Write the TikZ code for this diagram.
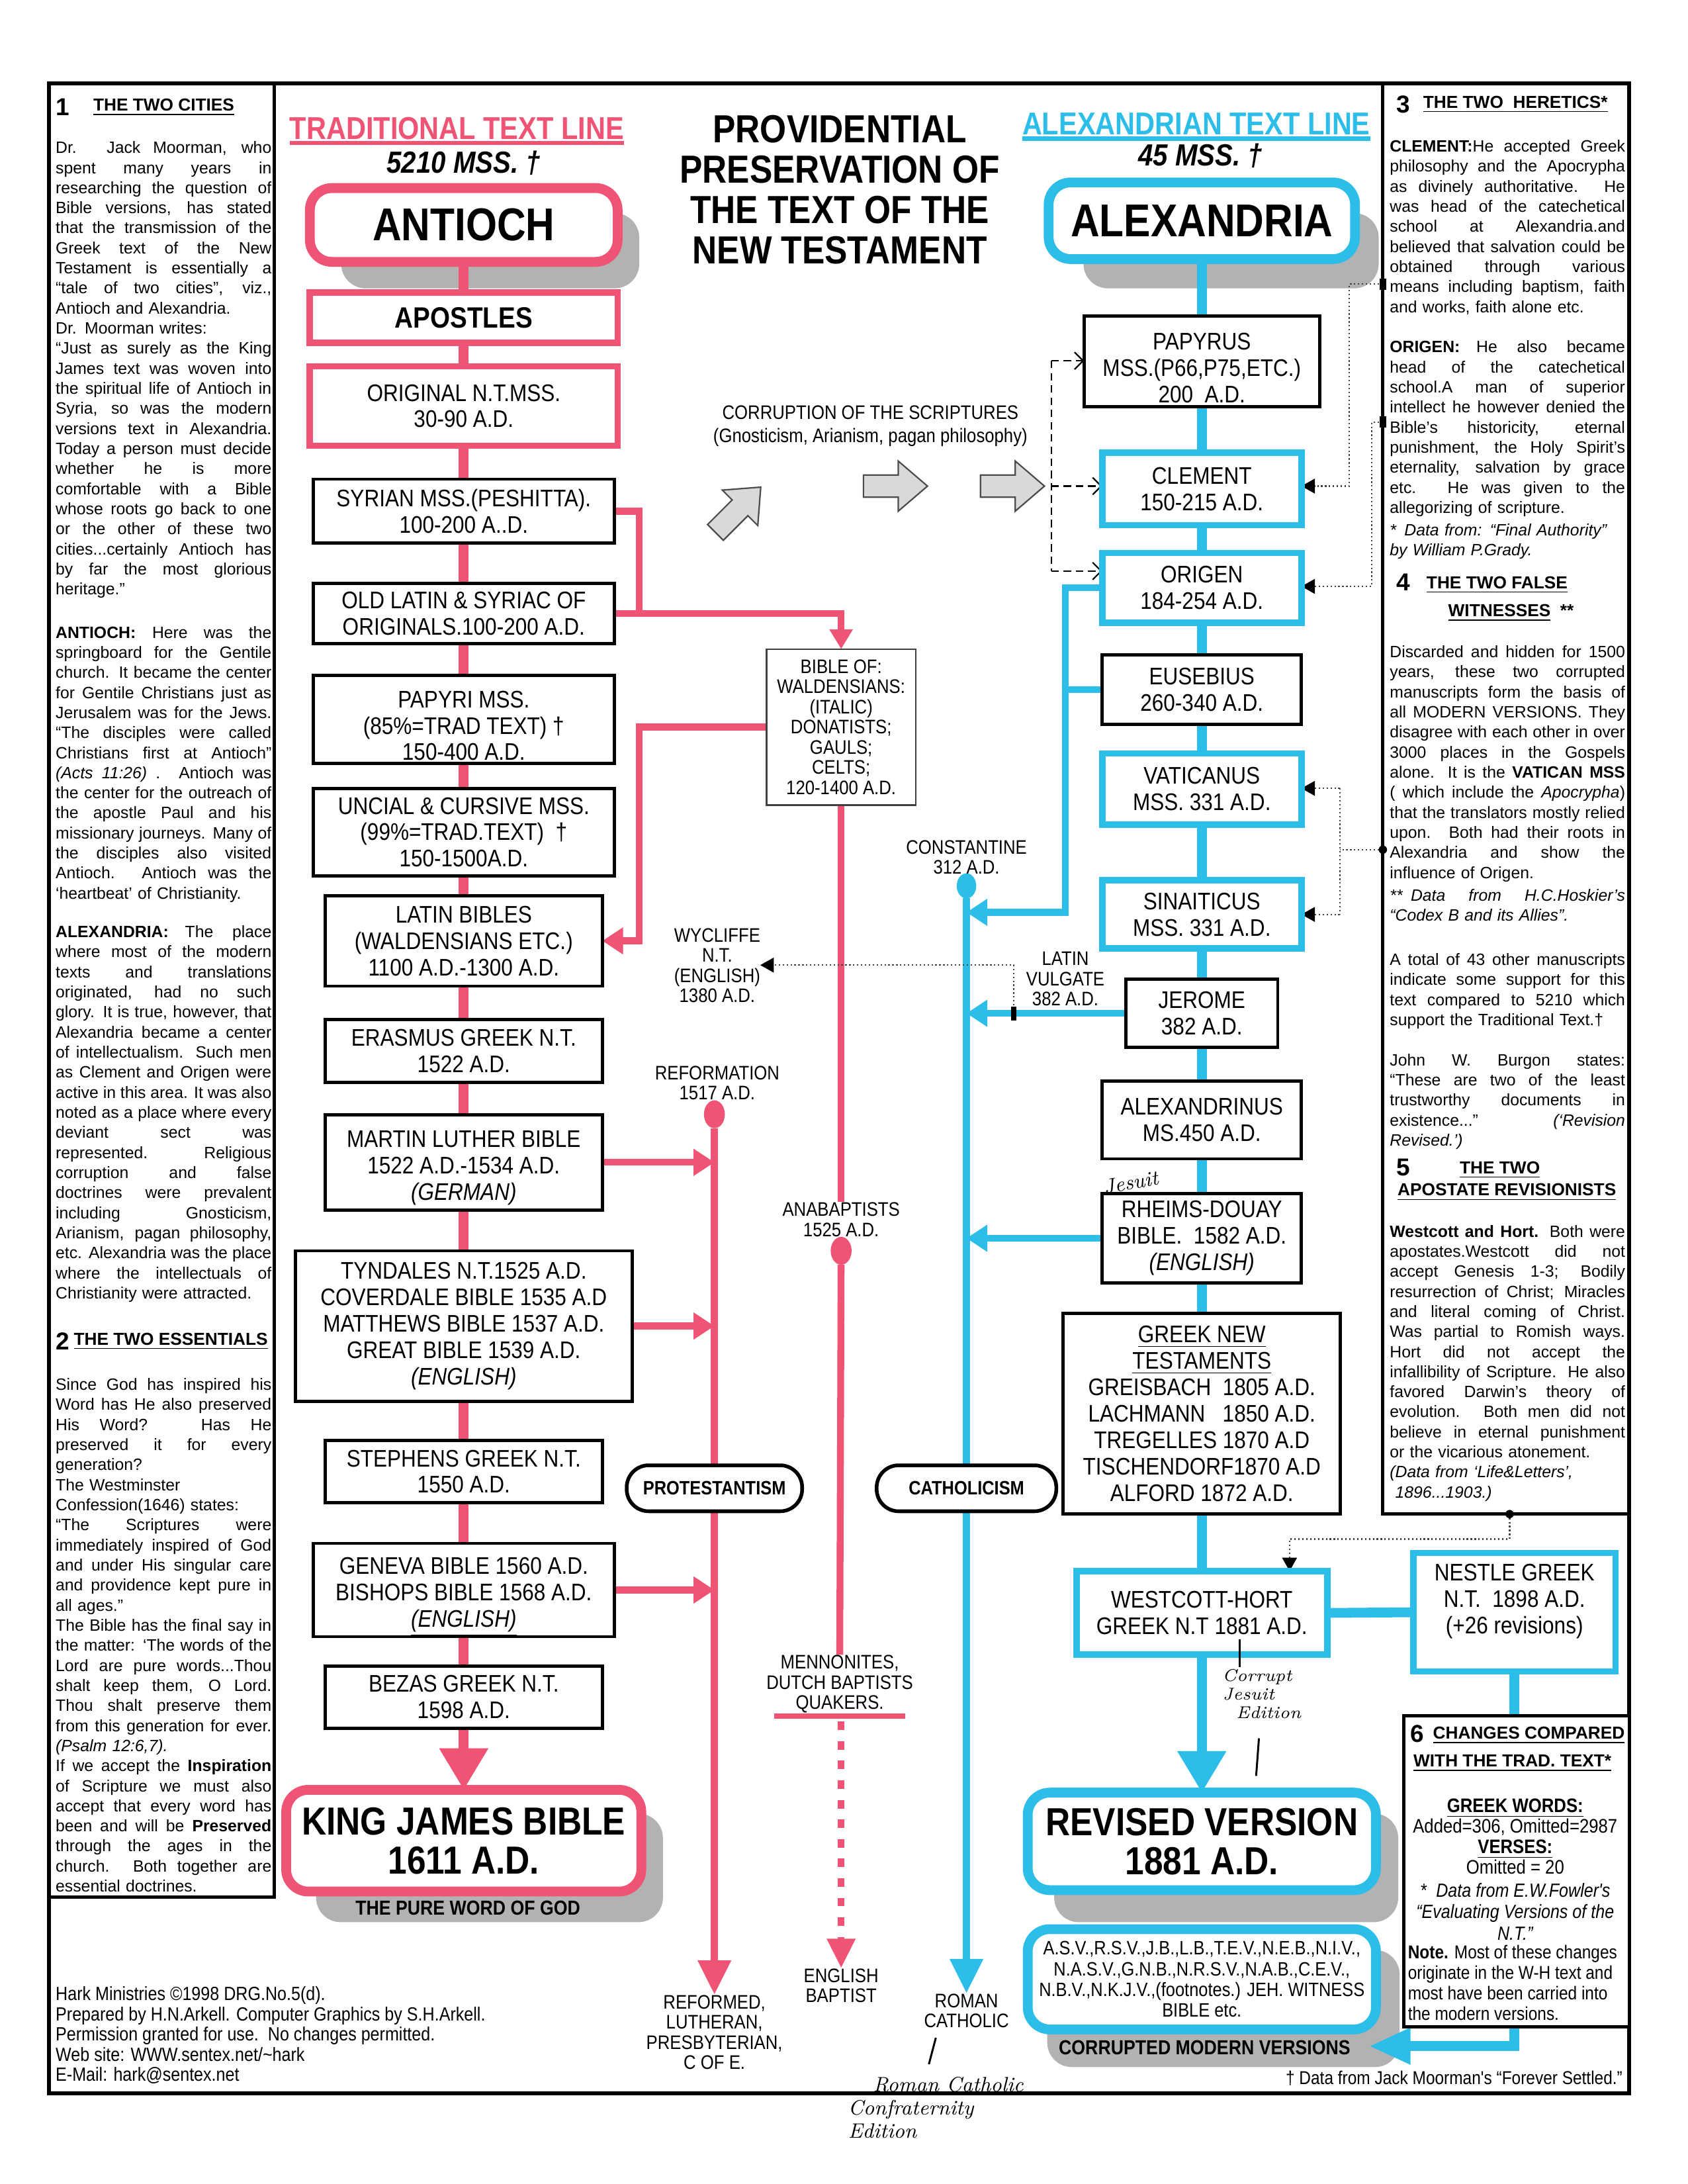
\documentclass[tikz,border=0pt]{standalone}
\usepackage{fontspec}
\setsansfont{Liberation Sans}
\renewcommand{\familydefault}{\sfdefault}
\newfontfamily\cnd[FakeStretch=0.87]{Liberation Sans}
\usetikzlibrary{arrows.meta,shapes.geometric}
\definecolor{pk}{RGB}{239,84,117}
\definecolor{bl}{RGB}{44,190,232}
\definecolor{shd}{RGB}{178,178,178}
\newdimen\uu \uu=0.02cm
\newdimen\jw \jw=3.1cm
\newcommand\jl[1]{\leavevmode\hbox to\jw{\spaceskip=0pt\xspaceskip=0pt\relax #1}}
\newcommand\bxf{\cnd\fontsize{9.8}{10.8}\selectfont}
\newcommand\lbf{\cnd\fontsize{8}{8.25}\selectfont}
\newcommand\ptx{\fontsize{6.7}{8.2}\selectfont}
\newcommand\hdf{\fontsize{7.1}{8.2}\selectfont\bfseries}
\newcommand\numf{\fontsize{10}{10}\selectfont\bfseries}
\newcommand\bigf{\cnd\fontsize{18.8}{19}\selectfont\bfseries}
\newcommand\kjbf{\cnd\fontsize{16}{16}\selectfont\bfseries}
\newcommand\up[1]{\rule{0pt}{#1}}
\newcommand\bx[7]{\node[#2, minimum width=#5*\uu, minimum height=#6*\uu] (#1) at (#3,#4) {#7};}
\newcommand\garrow[3]{\begin{scope}[shift={(#1,#2)}, rotate=#3]
  \draw[draw=gray!60!black, fill=gray!30, line width=0.6pt] (-23,-8) -- (2,-8) -- (2,-18) -- (23,0) -- (2,18) -- (2,8) -- (-23,8) -- cycle;
\end{scope}}
\pgfdeclarelayer{shadowl}\pgfdeclarelayer{bg}\pgfsetlayers{shadowl,bg,main}
\tikzset{
  nb/.style={inner sep=0pt, outer sep=0pt, align=center},
  pkbox/.style={nb, draw=pk, line width=2.6pt, fill=white, font=\bxf},
  blbox/.style={nb, draw=bl, line width=2.6pt, fill=white, font=\bxf},
  bkbox/.style={nb, draw=black, line width=1.3pt, fill=white, font=\bxf},
  thinbox/.style={nb, draw=black!75, line width=0.6pt, fill=white, font=\lbf},
  pkround/.style={nb, draw=pk, line width=4pt, rounded corners=9pt, fill=white},
  blround/.style={nb, draw=bl, line width=4pt, rounded corners=9pt, fill=white},
  shbox/.style={nb, fill=shd, rounded corners=10pt},
  pill/.style={nb, draw=black, line width=1.5pt, rounded corners=9pt, fill=white, font=\cnd\fontsize{7.9}{8}\selectfont\bfseries},
  panel/.style={nb, draw=black, line width=1.4pt},
  ptrunk/.style={draw=pk, line width=4pt},
  btrunk/.style={draw=bl, line width=4pt},
  pthin/.style={draw=pk, line width=2.8pt},
  bthin/.style={draw=bl, line width=2.8pt},
  parr/.style={pthin, -{Triangle[length=8.5pt,width=10.5pt]}},
  barr/.style={bthin, -{Triangle[length=8.5pt,width=10.5pt]}},
  dotc/.style={draw=black!75, line width=0.6pt, densely dotted},
  dotarr/.style={dotc, -{Triangle[length=5.5pt,width=6pt,black]}},
  dashc/.style={draw=black, line width=0.6pt, densely dashed},
  dasharr/.style={dashc, -{Straight Barb[length=3.5pt,width=7pt]}},
  pkdot/.style={nb, ellipse, fill=pk, minimum width=15*\uu, minimum height=20*\uu},
  bldot/.style={nb, ellipse, fill=bl, minimum width=14*\uu, minimum height=18*\uu},
  mk/.style={nb, fill=black, minimum width=5*\uu, minimum height=8*\uu},
  mkdot/.style={nb, circle, fill=black, minimum size=6*\uu},
  lbl/.style={nb, anchor=north, font=\lbf},
  ptxt/.style={nb, anchor=north west, align=left, font=\ptx},
  hand/.style={nb, font=\rmfamily\itshape\fontsize{8.5}{9.5}\selectfont},
  numl/.style={nb, anchor=west, font=\numf},
  hdl/.style={nb, font=\hdf},
}
\begin{document}
\begin{tikzpicture}[x=0.02cm,y=-0.02cm]
\useasboundingbox (0,0) rectangle (1212,1568);
\begin{pgfonlayer}{shadowl}
\fill[white] (0,0) rectangle (1212,1568);
\node[shbox, minimum width=214*\uu, minimum height=54*\uu] (antsh) at (352,180) {};
\node[shbox, minimum width=212*\uu, minimum height=54*\uu] (alexsh) at (884,180) {};
\node[shbox, minimum width=249*\uu, minimum height=78*\uu] (kjbsh) at (351.5,1341) {};
\node[shbox, minimum width=247*\uu, minimum height=78*\uu] (rvsh) at (880.5,1341) {};
\node[shbox, minimum width=253*\uu, minimum height=84*\uu] (cmvsh) at (878.5,1442) {};
\end{pgfonlayer}

% frames and panels
\node[panel, line width=1.6pt, minimum width=1135*\uu, minimum height=1443*\uu] (frame) at (602.5,781.5) {};
\node[panel, minimum width=162*\uu, minimum height=1302*\uu] (lpanel) at (116,711) {};
\node[panel, minimum width=177*\uu, minimum height=1027*\uu] (rpanel) at (1081.5,573.5) {};
\node[panel, fill=white, minimum width=162*\uu, minimum height=223*\uu] (sec6) at (1089,1343.5) {};

% titles
\node[nb, text=pk, font=\cnd\fontsize{12.9}{13}\selectfont\bfseries] (ttl) at (328,92) {TRADITIONAL TEXT LINE};
\node[nb, text=bl, font=\cnd\fontsize{12.9}{13}\selectfont\bfseries] (atl) at (859,89) {ALEXANDRIAN TEXT LINE};
\node[nb, font=\cnd\fontsize{12.5}{13}\selectfont\bfseries\itshape] (n5210) at (333,117) {5210 MSS. †};
\node[nb, font=\cnd\fontsize{12.5}{13}\selectfont\bfseries\itshape] (n45) at (862,112) {45 MSS. †};
\node[nb, anchor=north, font=\cnd\fontsize{16}{16.5}\selectfont\bfseries] (title) at (603,82) {\strut PROVIDENTIAL\\PRESERVATION OF\\THE TEXT OF THE\\NEW TESTAMENT};

% traditional line
\bx{antioch}{pkround,font=\bigf}{333}{161.5}{221}{53}{ANTIOCH}
\bx{apostles}{pkbox,font=\cnd\fontsize{12}{12}\selectfont\bfseries}{333}{228}{221}{36}{APOSTLES}
\bx{orig}{pkbox}{333}{291.5}{221}{57}{ORIGINAL N.T.MSS.\\30-90 A.D.}
\bx{syrian}{bkbox}{333}{367}{216}{46}{SYRIAN MSS.(PESHITTA).\\100-200 A..D.}
\bx{oldlatin}{bkbox}{333}{440.5}{216}{43}{OLD LATIN \& SYRIAC OF\\ORIGINALS.100-200 A.D.}
\bx{papyri}{bkbox}{333}{516.5}{216}{63}{\up{12pt}PAPYRI MSS.\\(85\%=TRAD TEXT) †\\150-400 A.D.}
\bx{uncial}{bkbox}{333}{597.5}{216}{63}{UNCIAL \& CURSIVE MSS.\\(99\%=TRAD.TEXT) \ †\\150-1500A.D.}
\bx{latin}{bkbox}{333}{675.5}{199}{65}{LATIN BIBLES\\(WALDENSIANS ETC.)\\1100 A.D.-1300 A.D.}
\bx{erasmus}{bkbox}{333}{754.5}{199}{45}{ERASMUS GREEK N.T.\\1522 A.D.}
\bx{luther}{bkbox}{333}{834.5}{199}{63}{\up{13.4pt}MARTIN LUTHER BIBLE\\1522 A.D.-1534 A.D.\\\underline{\textit{(GERMAN)}}}
\bx{tyndale}{bkbox}{333}{952}{242}{108}{TYNDALES N.T.1525 A.D.\\COVERDALE BIBLE 1535 A.D\\MATTHEWS BIBLE 1537 A.D.\\GREAT BIBLE 1539 A.D.\\\textit{(ENGLISH)}}
\bx{stephens}{bkbox}{333}{1056.5}{199}{45}{STEPHENS GREEK N.T.\\1550 A.D.}
\bx{geneva}{bkbox}{333}{1141.5}{216}{61}{\up{12.5pt}GENEVA BIBLE 1560 A.D.\\BISHOPS BIBLE 1568 A.D.\\\underline{\textit{(ENGLISH)}}}
\bx{bezas}{bkbox}{333}{1218.5}{199}{45}{BEZAS GREEK N.T.\\1598 A.D.}
\bx{kjb}{pkround,font=\kjbf}{333}{1321.5}{255}{73}{KING JAMES BIBLE\\1611 A.D.}
\node[nb, font=\cnd\fontsize{8.3}{9}\selectfont\bfseries] (pwg) at (336,1370) {THE PURE WORD OF GOD};

% alexandrian line
\bx{alexandria}{blround,font=\bigf}{863}{158.5}{220}{55}{ALEXANDRIA}
\bx{papyrus}{bkbox}{863}{259.5}{169}{65}{\up{12.2pt}PAPYRUS\\MSS.(P66,P75,ETC.)\\200 \ A.D.}
\bx{clement}{blbox}{863}{351}{143}{52}{CLEMENT\\150-215 A.D.}
\bx{origen}{blbox}{863}{422}{143}{50}{ORIGEN\\184-254 A.D.}
\bx{eusebius}{bkbox}{863}{495}{143}{50}{EUSEBIUS\\260-340 A.D.}
\bx{vaticanus}{blbox}{863}{566.5}{143}{51}{VATICANUS\\MSS. 331 A.D.}
\bx{sinaiticus}{blbox}{863}{656.5}{143}{49}{SINAITICUS\\MSS. 331 A.D.}
\bx{jerome}{bkbox}{863}{727.5}{109}{49}{JEROME\\382 A.D.}
\bx{alexandrinus}{bkbox}{863}{804}{143}{56}{ALEXANDRINUS\\MS.450 A.D.}
\bx{rheims}{bkbox}{863}{889}{143}{64}{RHEIMS-DOUAY\\BIBLE. \ 1582 A.D.\\\textit{(ENGLISH)}}
\bx{greeknt}{bkbox}{863}{1015}{199}{144}{\underline{GREEK NEW}\\\underline{TESTAMENTS}\\GREISBACH \ 1805 A.D.\\LACHMANN \ \ 1850 A.D.\\TREGELLES 1870 A.D\\TISCHENDORF1870 A.D\\ALFORD 1872 A.D.}
\bx{wh}{blbox}{863}{1158}{180}{60}{WESTCOTT-HORT\\GREEK N.T 1881 A.D.}
\bx{rv}{blround,font=\kjbf}{863}{1322}{250}{70}{REVISED VERSION\\1881 A.D.}
\bx{cmv}{blround,font=\cnd\fontsize{7.9}{8.5}\selectfont}{863}{1421}{250}{72}{A.S.V.,R.S.V.,J.B.,L.B.,T.E.V.,N.E.B.,N.I.V.,\\N.A.S.V.,G.N.B.,N.R.S.V.,N.A.B.,C.E.V.,\\N.B.V.,N.K.J.V.,(footnotes.) JEH. WITNESS\\BIBLE etc.}
\node[nb, font=\cnd\fontsize{8.3}{9}\selectfont\bfseries] (cmvl) at (865,1470) {CORRUPTED MODERN VERSIONS};
\bx{nestle}{blbox}{1087.5}{1157.5}{145}{85}{NESTLE GREEK\\N.T. \ 1898 A.D.\\(+26 revisions)\\\mbox{}}

% middle
\bx{wald}{thinbox}{604}{522}{107}{112}{BIBLE OF:\\WALDENSIANS:\\(ITALIC)\\DONATISTS;\\GAULS;\\CELTS;\\120-1400 A.D.}
\bx{prot}{pill}{513}{1068.5}{126}{33}{PROTESTANTISM}
\bx{cath}{pill}{694}{1068.5}{129}{33}{CATHOLICISM}
\node[pkdot] (refdot) at (513,800) {};
\node[pkdot] (anadot) at (604,898) {};
\node[bldot] (condot) at (694,636) {};

\node[lbl] (corr) at (625,291) {\strut CORRUPTION OF THE SCRIPTURES\\(Gnosticism, Arianism, pagan philosophy)};
\node[lbl] (reform) at (515,765) {\strut REFORMATION\\1517 A.D.};
\node[lbl] (anab) at (604,863) {\strut ANABAPTISTS\\1525 A.D.};
\node[lbl] (menno) at (603,1188) {\strut MENNONITES,\\DUTCH BAPTISTS\\QUAKERS.};
\node[lbl] (eb) at (604,1413) {\strut ENGLISH\\BAPTIST};
\node[lbl] (refl) at (513,1432) {\strut REFORMED,\\LUTHERAN,\\PRESBYTERIAN,\\C OF E.};
\node[lbl] (rcl) at (694,1431) {\strut ROMAN\\CATHOLIC};
\node[lbl] (const) at (694,603) {\strut CONSTANTINE\\312 A.D.};
\node[lbl] (wyc) at (515,666) {\strut WYCLIFFE\\N.T.\\(ENGLISH)\\1380 A.D.};
\node[lbl] (vulg) at (765,683) {\strut LATIN\\VULGATE\\382 A.D.};

\garrow{530}{366}{45}
\garrow{643}{349}{0}
\garrow{727}{349}{0}

% coordinates
\coordinate (sj) at (459,440.5);
\coordinate (wj) at (459,675.5);
\coordinate (mu1) at (556,1232); \coordinate (mu2) at (650,1232); \coordinate (mu) at (604,1236);
\coordinate (w8) at (765,655);
\coordinate (cmvtip) at (983,1469);
\coordinate (cv1) at (755,259); \coordinate (cv3) at (755,349); \coordinate (cv2) at (755,410);
\coordinate (m1) at (993,204); \coordinate (w1) at (969,349);
\coordinate (m2) at (993,303); \coordinate (w2) at (985,421);
\coordinate (m3) at (993,610); \coordinate (w3) at (962,610); \coordinate (w4) at (962,566); \coordinate (w5) at (962,656.5);
\coordinate (m4) at (1084,1087); \coordinate (w7) at (926,1105);
\coordinate (jm) at (728,727.5);
\node[mk] (mk1) at (m1) {};
\node[mk] (mk2) at (m2) {};
\node[mkdot] (mk3) at (m3) {};
\node[mkdot] (mk4) at (m4) {};
\node[mk, minimum width=4*\uu, minimum height=10*\uu] (mk5) at (jm) {};

\begin{pgfonlayer}{bg}
\draw[pk, line width=1.8pt] ([yshift=-1.5pt]ttl.south west) -- ([yshift=-1.5pt]ttl.south east);
\draw[bl, line width=1.8pt] ([yshift=-1.5pt]atl.south west) -- ([yshift=-1.5pt]atl.south east);
% pink trunk
\draw[ptrunk] (antioch.south) -- (apostles.north);
\draw[ptrunk] (apostles.south) -- (orig.north);
\draw[ptrunk] (orig.south) -- (syrian.north);
\draw[ptrunk] (syrian.south) -- (oldlatin.north);
\draw[ptrunk] (oldlatin.south) -- (papyri.north);
\draw[ptrunk] (papyri.south) -- (uncial.north);
\draw[ptrunk] (uncial.south) -- (latin.north);
\draw[ptrunk] (latin.south) -- (erasmus.north);
\draw[ptrunk] (erasmus.south) -- (luther.north);
\draw[ptrunk] (luther.south) -- (tyndale.north);
\draw[ptrunk] (tyndale.south) -- (stephens.north);
\draw[ptrunk] (stephens.south) -- (geneva.north);
\draw[ptrunk] (geneva.south) -- (bezas.north);
\draw[ptrunk, -{Triangle[length=17pt,width=19pt]}] (bezas.south) -- (kjb.north);
% pink branches
\draw[pthin] (syrian.east) -| (sj);
\draw[pthin, -{Triangle[length=8pt,width=9pt]}] (oldlatin.east) -| (wald.north);
\draw[parr] (wald.west) -| (wj) -- (latin.east);
\draw[pthin] (wald.south) -- (anab.north);
\draw[pthin] (anadot) -- (menno.north);
\draw[pk, line width=2.3pt] (mu1) -- (mu2);
\draw[pthin, dash pattern=on 3.5pt off 4.5pt, -{Triangle[length=12pt,width=11pt]}] (mu) -- (eb.north);
\draw[pthin, -{Triangle[length=14pt,width=13pt]}] (refdot) -- (refl.north);
\draw[parr] (luther.east) -- (luther.east -| refdot);
\draw[parr] (tyndale.east) -- (tyndale.east -| refdot);
\draw[parr] (geneva.east) -- (geneva.east -| refdot);
% blue trunk
\draw[btrunk] (alexandria.south) -- (papyrus.north);
\draw[btrunk] (papyrus.south) -- (clement.north);
\draw[btrunk] (clement.south) -- (origen.north);
\draw[btrunk] (origen.south) -- (eusebius.north);
\draw[btrunk] (eusebius.south) -- (vaticanus.north);
\draw[btrunk] (vaticanus.south) -- (sinaiticus.north);
\draw[btrunk] (sinaiticus.south) -- (jerome.north);
\draw[btrunk] (jerome.south) -- (alexandrinus.north);
\draw[btrunk] (alexandrinus.south) -- (rheims.north);
\draw[btrunk] (rheims.south) -- (greeknt.north);
\draw[btrunk] (greeknt.south) -- (wh.north);
\draw[btrunk, -{Triangle[length=17pt,width=19pt]}] (wh.south) -- (rv.north);
% blue branches
\draw[barr] (origen.west) -| (w8) -- (w8 -| condot);
\draw[bthin] (eusebius.west) -- (eusebius.west -| w8);
\draw[barr] (jerome.west) -- (jerome.west -| condot);
\draw[barr] (rheims.west) -- (rheims.west -| condot);
\draw[bthin, -{Triangle[length=14pt,width=13pt]}] (condot) -- (rcl.north);
\draw[btrunk] (wh.east) -- (nestle.west);
\draw[btrunk, -{Triangle[length=17pt,width=14pt]}] (nestle.south) |- (cmvtip);
% dotted / dashed
\draw[dashc] (cv1) -- (cv2);
\draw[dasharr] (cv1) -- (cv1 -| papyrus.west);
\draw[dasharr] (cv3) -- (cv3 -| clement.west);
\draw[dasharr] (cv2) -- (cv2 -| origen.west);
\draw[dotarr] (m1) -| (w1) -- (w1 -| clement.east);
\draw[dotarr] (m2) -| (w2) -- (w2 -| origen.east);
\draw[dotc] (m3) -- (w3);
\draw[dotc] (w4) -- (w5);
\draw[dotarr] (w4) -- (w4 -| vaticanus.east);
\draw[dotarr] (w5) -- (w5 -| sinaiticus.east);
\draw[dotarr] (m4) |- (w7) -- (w7 |- wh.north);
\draw[dotarr] (jm) |- (wyc.east);
\end{pgfonlayer}

% left panel text
\node[numl] (h1n) at (40,77) {1};
\node[hdl, anchor=west] (h1) at (67,77) {\underline{THE TWO CITIES}};
\node[ptxt, text width=3.1cm] (t1) at (40,100) {\jw=3.1cm\noindent\strut\jl{Dr. Jack Moorman, who}\\
\jl{spent many years in}\\
\jl{researching the question of}\\
\jl{Bible versions, has stated}\\
\jl{that the transmission of the}\\
\jl{Greek text of the New}\\
\jl{Testament is essentially a}\\
\jl{“tale of two cities”, viz.,}\\
Antioch and Alexandria.\\
Dr. Moorman writes:\\
\jl{“Just as surely as the King}\\
\jl{James text was woven into}\\
\jl{the spiritual life of Antioch in}\\
\jl{Syria, so was the modern}\\
\jl{versions text in Alexandria.}\\
\jl{Today a person must decide}\\
\jl{whether he is more}\\
\jl{comfortable with a Bible}\\
\jl{whose roots go back to one}\\
\jl{or the other of these two}\\
\jl{cities...certainly Antioch has}\\
\jl{by far the most glorious}\\
heritage.”};
\node[ptxt, text width=3.1cm] (t2) at (40,448) {\jw=3.1cm\noindent\strut\jl{\textbf{ANTIOCH:}\quad Here was the}\\
\jl{springboard for the Gentile}\\
\jl{church. It became the center}\\
\jl{for Gentile Christians just as}\\
\jl{Jerusalem was for the Jews.}\\
\jl{“The disciples were called}\\
\jl{Christians first at Antioch”}\\
\jl{\textit{(Acts 11:26)} . Antioch was}\\
\jl{the center for the outreach of}\\
\jl{the apostle Paul and his}\\
\jl{missionary journeys. Many of}\\
\jl{the disciples also visited}\\
\jl{Antioch. Antioch was the}\\
‘heartbeat’ of Christianity.};
\node[ptxt, text width=3.1cm] (t3) at (40,663) {\jw=3.1cm\noindent\strut\jl{\textbf{ALEXANDRIA:}\quad The place}\\
\jl{where most of the modern}\\
\jl{texts and translations}\\
\jl{originated, had no such}\\
\jl{glory. It is true, however, that}\\
\jl{Alexandria became a center}\\
\jl{of intellectualism. Such men}\\
\jl{as Clement and Origen were}\\
\jl{active in this area. It was also}\\
\jl{noted as a place where every}\\
\jl{deviant sect was}\\
\jl{represented. Religious}\\
\jl{corruption and false}\\
\jl{doctrines were prevalent}\\
\jl{including Gnosticism,}\\
\jl{Arianism, pagan philosophy,}\\
\jl{etc. Alexandria was the place}\\
\jl{where the intellectuals of}\\
Christianity were attracted.};
\node[numl] (h2n) at (40,963) {2};
\node[hdl, anchor=west] (h2) at (53,963) {\underline{THE TWO ESSENTIALS}};
\node[ptxt, text width=3.1cm] (t4) at (40,988) {\jw=3.1cm\noindent\strut\jl{Since God has inspired his}\\
\jl{Word has He also preserved}\\
\jl{His Word? Has He}\\
\jl{preserved it for every}\\
generation?\\
The Westminster\\
Confession(1646) states:\\
\jl{“The Scriptures were}\\
\jl{immediately inspired of God}\\
\jl{and under His singular care}\\
\jl{and providence kept pure in}\\
all ages.”\\
\jl{The Bible has the final say in}\\
\jl{the matter: ‘The words of the}\\
\jl{Lord are pure words...Thou}\\
\jl{shalt keep them, O Lord.}\\
\jl{Thou shalt preserve them}\\
\jl{from this generation for ever.}\\
\textit{(Psalm 12:6,7).}\\
\jl{If we accept the \textbf{Inspiration}}\\
\jl{of Scripture we must also}\\
\jl{accept that every word has}\\
\jl{been and will be \textbf{Preserved}}\\
\jl{through the ages in the}\\
\jl{church. Both together are}\\
essential doctrines.};

% right panel text
\node[numl] (h3n) at (1003,75) {3};
\node[hdl, anchor=west] (h3) at (1022,75) {\underline{THE TWO\ \ HERETICS*}};
\node[ptxt, text width=3.38cm] (t5) at (998,99) {\jw=3.38cm\noindent\strut\jl{\textbf{CLEMENT:}He accepted Greek}\\
\jl{philosophy and the Apocrypha}\\
\jl{as divinely authoritative. He}\\
\jl{was head of the catechetical}\\
\jl{school at Alexandria.and}\\
\jl{believed that salvation could be}\\
\jl{obtained through various}\\
\jl{means including baptism, faith}\\
and works, faith alone etc.\\[8.2pt]
\jl{\textbf{ORIGEN:}\quad He also became}\\
\jl{head of the catechetical}\\
\jl{school.A man of superior}\\
\jl{intellect he however denied the}\\
\jl{Bible's historicity, eternal}\\
\jl{punishment, the Holy Spirit's}\\
\jl{eternality, salvation by grace}\\
\jl{etc. He was given to the}\\
allegorizing of scripture.\\[1pt]
\textit{*\enspace Data from: “Final Authority”}\\
\textit{by William P.Grady.}};
\node[numl] (h4n) at (1003,418) {4};
\node[hdl] (h4a) at (1075,420) {\underline{THE TWO FALSE}};
\node[hdl] (h4b) at (1085,440) {\underline{WITNESSES}\ \ **};
\node[ptxt, text width=3.38cm] (t6) at (998,462) {\jw=3.38cm\noindent\strut\jl{Discarded and hidden for 1500}\\
\jl{years, these two corrupted}\\
\jl{manuscripts form the basis of}\\
\jl{all MODERN VERSIONS. They}\\
\jl{disagree with each other in over}\\
\jl{3000 places in the Gospels}\\
\jl{alone. It is the \textbf{VATICAN MSS}}\\
\jl{( which include the \textit{Apocrypha})}\\
\jl{that the translators mostly relied}\\
\jl{upon. Both had their roots in}\\
\jl{Alexandria and show the}\\
influence of Origen.\\[1pt]
\jl{\textit{**\enspace Data from H.C.Hoskier's}}\\
\textit{“Codex B and its Allies”.}};
\node[ptxt, text width=3.38cm] (t7) at (998,683) {\jw=3.38cm\noindent\strut\jl{A total of 43 other manuscripts}\\
\jl{indicate some support for this}\\
\jl{text compared to 5210 which}\\
support the Traditional Text.†};
\node[ptxt, text width=3.38cm] (t8) at (998,755) {\jw=3.38cm\noindent\strut\jl{John W. Burgon states:}\\
\jl{“These are two of the least}\\
\jl{trustworthy documents in}\\
\jl{existence...” \quad \textit{(‘Revision}}\\
\textit{Revised.’)}};
\node[numl] (h5n) at (1003,838) {5};
\node[hdl] (h5a) at (1077,840) {\underline{THE TWO}};
\node[hdl] (h5b) at (1082,856) {\underline{APOSTATE REVISIONISTS}};
\node[ptxt, text width=3.38cm] (t9) at (998,878) {\jw=3.38cm\noindent\strut\jl{\textbf{Westcott and Hort.} Both were}\\
\jl{apostates.Westcott did not}\\
\jl{accept Genesis 1-3; Bodily}\\
\jl{resurrection of Christ; Miracles}\\
\jl{and literal coming of Christ.}\\
\jl{Was partial to Romish ways.}\\
\jl{Hort did not accept the}\\
\jl{infallibility of Scripture. He also}\\
\jl{favored Darwin's theory of}\\
\jl{evolution. Both men did not}\\
\jl{believe in eternal punishment}\\
or the vicarious atonement.\\
\textit{(Data from ‘Life\&Letters’,}\\
\textit{\ 1896...1903.)}};

% section 6
\node[numl] (h6n) at (1013,1245) {6};
\node[hdl, anchor=west] (h6a) at (1029,1246) {\underline{CHANGES COMPARED}};
\node[hdl] (h6b) at (1086,1266) {\underline{WITH THE TRAD. TEXT*}};
\node[nb, anchor=north, font=\cnd\fontsize{8}{8.4}\selectfont] (s6a) at (1088,1291) {\strut\textbf{\underline{GREEK WORDS:}}\\Added=306, Omitted=2987\\\textbf{\underline{VERSES:}}\\Omitted = 20};
\node[nb, anchor=north, font=\cnd\fontsize{7.8}{8.8}\selectfont\itshape] (s6b) at (1088,1351) {\strut*\enspace Data from E.W.Fowler's\\“Evaluating Versions of the\\N.T.”};
\node[nb, anchor=north west, align=left, font=\cnd\fontsize{7.6}{8.4}\selectfont] (s6c) at (1011,1396) {\strut\textbf{Note.} Most of these changes\\originate in the W-H text and\\most have been carried into\\the modern versions.};

% credits
\node[nb, anchor=north west, align=left, font=\cnd\fontsize{7.8}{8.25}\selectfont] (credits) at (40,1426) {\strut Hark Ministries ©1998 DRG.No.5(d).\\Prepared by H.N.Arkell. Computer Graphics by S.H.Arkell.\\Permission granted for use.\ \ No changes permitted.\\Web site: WWW.sentex.net/\textasciitilde hark\\E-Mail: hark@sentex.net};
\node[nb, anchor=east, font=\cnd\fontsize{7.6}{8}\selectfont] (dagnote) at (1165,1492) {† Data from Jack Moorman's “Forever Settled.”};

% handwritten notes
\node[hand, rotate=10] (hj) at (812,849) {Jesuit};
\node[hand, align=left, font=\rmfamily\itshape\fontsize{7}{7.6}\selectfont] (hcje) at (906,1216) {Corrupt\\Jesuit\\\hspace{0.8em}Edition};
\draw[black, line width=0.8pt] (890,1177) -- (890,1197);
\draw[black, line width=0.8pt] (904,1248) -- (902,1275);
\draw[black, line width=0.8pt] (672,1463) -- (667,1482);
\node[hand, align=left] (hrc) at (672,1513) {\hspace{1.2em}Roman Catholic\\Confraternity\\Edition};
\end{tikzpicture}
\end{document}
